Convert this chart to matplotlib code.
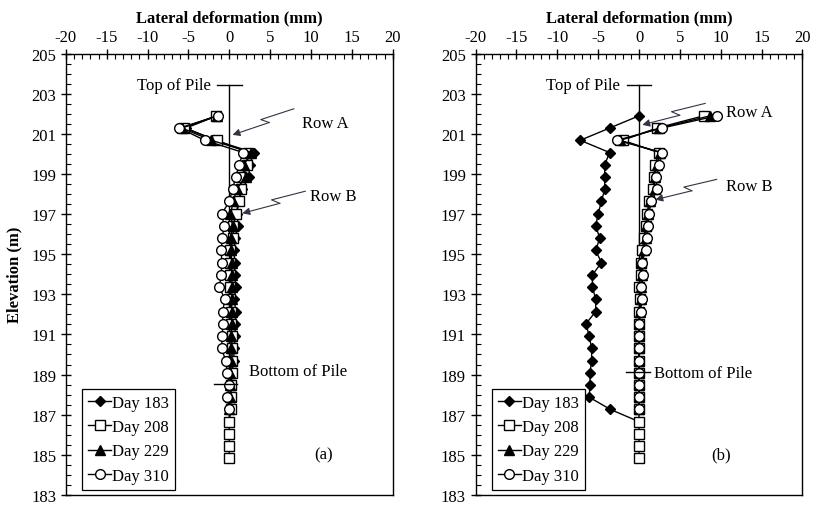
import numpy as np
import matplotlib
matplotlib.use("Agg")
import matplotlib.pyplot as plt
from matplotlib.ticker import MultipleLocator

plt.rcParams['font.family'] = ['Liberation Serif', 'DejaVu Serif']
plt.rcParams['axes.unicode_minus'] = False

# --- data (lateral deformation in mm at each inclinometer elevation) ---
elev = [201.90, 201.29, 200.68, 200.07, 199.46, 198.85, 198.24, 197.63, 197.02, 196.41,
        195.80, 195.19, 194.58, 193.97, 193.36, 192.75, 192.14, 191.53, 190.92, 190.31,
        189.70, 189.09, 188.48, 187.87, 187.26, 186.65, 186.04, 185.43, 184.82]
days = ["Day 183", "Day 208", "Day 229", "Day 310"]
y_ticks = [183, 185, 187, 189, 191, 193, 195, 197, 199, 201, 203, 205]

# panel (a)
a_d183 = [-1.5, -5.3, -1.8, 3.0, 2.5, 2.4, 1.6, 1.1, 1.0, 1.05, 0.7, 0.6, 0.65, 0.7, 0.8,
          0.6, 0.8, 0.75, 0.7, 0.6, 0.55, 0.3, 0.25, 0.1, 0.0, 0.0]
a_d208 = [-1.6, -5.5, -1.5, 2.3, 2.2, 1.4, 1.4, 1.2, 0.8, 0.5, 0.5, 0.15, 0.15, 0.1, 0.15,
          0.15, 0.2, 0.2, 0.3, 0.35, 0.35, 0.35, 0.2, 0.2, 0.2, 0.0, 0.0, 0.0, 0.0]
a_d229 = [-1.5, -5.8, -2.2, 2.7, 1.8, 2.0, 0.9, 0.5, 0.15, 0.4, 0.2, 0.2, 0.3, 0.3, 0.35,
          0.3, 0.3, 0.3, 0.25, 0.2, 0.2, 0.15, 0.1, 0.1, 0.0]
a_d310 = [-1.4, -6.1, -3.0, 1.7, 1.2, 0.8, 0.4, 0.0, -0.9, -0.65, -0.85, -1.0, -0.9, -1.0,
          -1.2, -0.55, -0.8, -0.8, -0.85, -0.95, -0.45, -0.25, 0.0, -0.25, 0.0]

# panel (b)
b_d183 = [0.0, -3.6, -7.2, -3.6, -4.2, -4.2, -4.2, -4.6, -5.0, -5.3, -4.8, -5.3, -4.6, -5.7,
          -5.7, -5.3, -5.3, -6.5, -6.1, -5.8, -5.8, -6.0, -6.0, -6.1, -3.5, 0.0]
b_d208 = [7.9, 2.2, -2.0, 2.4, 2.0, 1.8, 1.7, 1.2, 1.0, 0.8, 0.6, 0.4, 0.2, 0.2, 0.0,
          0.1, 0.0, 0.0, 0.0, 0.0, 0.0, 0.0, 0.0, 0.0, 0.0, 0.0, 0.0, 0.0, 0.0]
b_d229 = [8.7, 2.5, -2.3, 2.6, 2.2, 1.9, 1.9, 1.3, 1.1, 0.9, 0.8, 0.6, 0.3, 0.35, 0.2,
          0.2, 0.1, 0.0, 0.0, 0.0, 0.0, 0.0, 0.0, 0.0, 0.0]
b_d310 = [9.5, 2.8, -2.7, 2.8, 2.5, 2.1, 2.2, 1.5, 1.2, 1.1, 1.0, 0.8, 0.35, 0.5, 0.3,
          0.35, 0.2, 0.0, 0.0, 0.0, 0.0, 0.0, 0.0, 0.0, 0.0]

STYLES = [
    dict(marker='D', ms=5, mfc='black', mec='black'),
    dict(marker='s', ms=6.5, mfc='white', mec='black'),
    dict(marker='^', ms=6.5, mfc='black', mec='black'),
    dict(marker='o', ms=7, mfc='white', mec='black'),
]
FS = 12


def lightning(ax, start, tip):
    # zig-zag leader arrow, built in pixel space
    p0 = ax.transData.transform(start)
    p1 = ax.transData.transform(tip)
    d = p1 - p0
    L = np.hypot(*d)
    n = np.array([-d[1], d[0]]) / L
    A = p0 + 0.52 * d - n * 3
    B = p0 + 0.42 * d + n * 3
    inv = ax.transData.inverted()
    pts = inv.transform(np.array([p0, A, B]))
    ax.plot(pts[:, 0], pts[:, 1], color='#333344', lw=0.8)
    ax.annotate('', xy=tip, xytext=pts[2],
                arrowprops=dict(arrowstyle='-|>', color='#333344', lw=0.8,
                                mutation_scale=11, shrinkA=0, shrinkB=0))


def setup(ax, ylabel):
    ax.set_xlim(-20, 20)
    ax.set_ylim(183, 205)
    ax.xaxis.tick_top()
    ax.xaxis.set_label_position('top')
    ax.xaxis.set_major_locator(MultipleLocator(5))
    ax.xaxis.set_minor_locator(MultipleLocator(1))
    ax.set_yticks(y_ticks)
    ax.yaxis.set_minor_locator(MultipleLocator(0.5))
    ax.tick_params(which='major', direction='inout', length=7, width=1, labelsize=FS,
                   top=True, bottom=False, left=True, right=False)
    ax.tick_params(which='minor', direction='in', length=3.5, width=0.8,
                   top=True, bottom=False, left=True, right=False)
    ax.tick_params(axis='x', which='major', pad=3)
    for s in ax.spines.values():
        s.set_linewidth(1)
    ax.set_xlabel('Lateral deformation (mm)', fontsize=FS, fontweight='bold', labelpad=5)
    if ylabel:
        ax.set_ylabel('Elevation (m)', fontsize=FS, fontweight='bold', labelpad=6)


def panel(ax, series, top_y, bot_y, bot_x, arrows, texts, tag):
    # pile outline
    ax.plot([0, 0], [top_y, bot_y], color='black', lw=1, zorder=1)
    ax.plot([-1.5, 1.5], [top_y, top_y], color='black', lw=1, zorder=1)
    ax.plot(bot_x, [bot_y, bot_y], color='black', lw=1, zorder=6)
    for vals, lab, st in zip(series, days, STYLES):
        ax.plot(vals, elev[:len(vals)], color='black', lw=1, label=lab, zorder=3, **st)
    for s, t in arrows:
        lightning(ax, s, t)
    for x, y, txt, ha in texts:
        ax.text(x, y, txt, ha=ha, va='center', fontsize=FS)
    ax.text(tag[0], tag[1], tag[2], ha='center', va='center', fontsize=FS)
    leg = ax.legend(loc='lower left', bbox_to_anchor=(0.05, 0.012), borderaxespad=0,
                    fontsize=FS, handlelength=1.4, handletextpad=0.05, borderpad=0.35,
                    labelspacing=0.5, fancybox=False, edgecolor='black', framealpha=1)
    leg.get_frame().set_linewidth(0.9)


fig = plt.figure(figsize=(8.13, 5.06), dpi=100)
ax1 = fig.add_axes([0.081, 0.02, 0.402, 0.872])
ax2 = fig.add_axes([0.585, 0.02, 0.402, 0.872])
setup(ax1, True)
setup(ax2, False)

panel(ax1, [a_d183, a_d208, a_d229, a_d310], 203.45, 188.52, [-1.9, 1.0],
      [((7.9, 202.25), (0.4, 200.95)), ((9.3, 198.14), (1.6, 197.04))],
      [(-2.3, 203.45, 'Top of Pile', 'right'), (8.9, 201.56, 'Row A', 'left'),
       (9.9, 197.9, 'Row B', 'left'), (2.4, 189.2, 'Bottom of Pile', 'left')],
      (11.5, 185.0, '(a)'))

panel(ax2, [b_d183, b_d208, b_d229, b_d310], 203.45, 189.12, [-1.6, 1.4],
      [((8.1, 202.52), (0.4, 201.45)), ((9.5, 198.73), (2.0, 197.72))],
      [(-2.3, 203.45, 'Top of Pile', 'right'), (10.6, 202.1, 'Row A', 'left'),
       (10.6, 198.4, 'Row B', 'left'), (1.8, 189.1, 'Bottom of Pile', 'left')],
      (10.0, 185.0, '(b)'))

fig.savefig('out.png', dpi=100)
